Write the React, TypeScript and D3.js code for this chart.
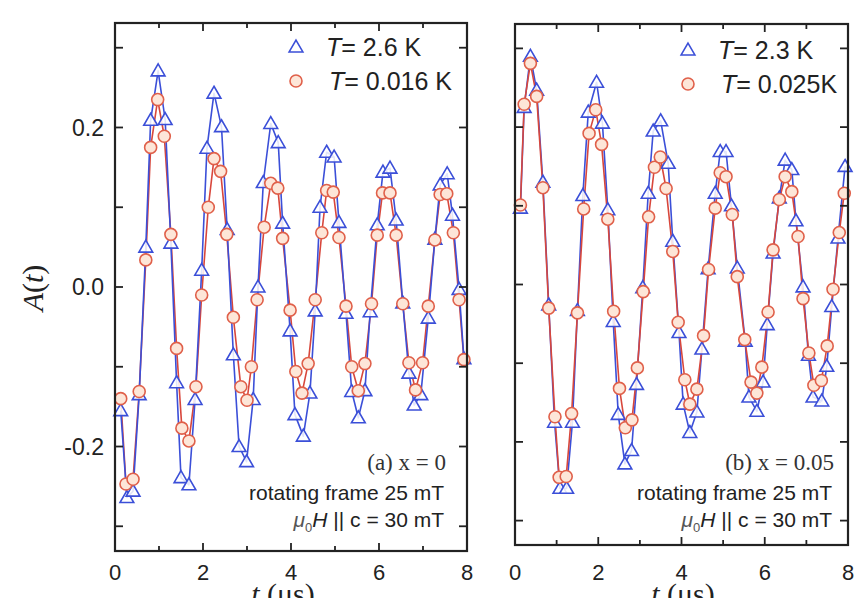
import React, { useEffect, useRef } from "react";
import * as d3 from "d3";

// panel (a) x = 0
const leftRedT = [0.13, 0.25, 0.41, 0.55, 0.70, 0.81, 0.97, 1.12, 1.27, 1.40, 1.52, 1.68, 1.84, 1.97, 2.12, 2.25, 2.40, 2.54, 2.69, 2.86, 3.00, 3.10, 3.23, 3.39, 3.54, 3.70, 3.81, 3.98, 4.11, 4.25, 4.39, 4.55, 4.70, 4.81, 4.96, 5.09, 5.25, 5.38, 5.53, 5.68, 5.83, 5.96, 6.08, 6.25, 6.39, 6.54, 6.68, 6.83, 6.99, 7.12, 7.27, 7.39, 7.54, 7.69, 7.82, 7.93];
const leftRedA = [-0.140, -0.247, -0.241, -0.131, 0.034, 0.175, 0.235, 0.189, 0.066, -0.077, -0.177, -0.193, -0.125, -0.010, 0.100, 0.161, 0.145, 0.066, -0.038, -0.125, -0.142, -0.100, -0.016, 0.075, 0.130, 0.124, 0.061, -0.029, -0.106, -0.133, -0.096, -0.016, 0.068, 0.121, 0.119, 0.062, -0.024, -0.100, -0.130, -0.096, -0.021, 0.065, 0.118, 0.118, 0.065, -0.021, -0.095, -0.129, -0.095, -0.024, 0.059, 0.116, 0.117, 0.068, -0.016, -0.091];
const leftBlueT = [0.13, 0.27, 0.41, 0.55, 0.70, 0.81, 0.98, 1.14, 1.27, 1.40, 1.50, 1.68, 1.82, 1.97, 2.09, 2.25, 2.42, 2.55, 2.69, 2.82, 2.99, 3.14, 3.25, 3.37, 3.54, 3.71, 3.81, 3.98, 4.09, 4.28, 4.43, 4.55, 4.66, 4.81, 4.98, 5.09, 5.25, 5.38, 5.53, 5.68, 5.80, 5.96, 6.09, 6.25, 6.39, 6.54, 6.68, 6.80, 6.95, 7.12, 7.27, 7.39, 7.55, 7.67, 7.82, 7.93];
const leftBlueA = [-0.155, -0.264, -0.256, -0.135, 0.050, 0.209, 0.271, 0.210, 0.055, -0.120, -0.239, -0.248, -0.141, 0.021, 0.174, 0.243, 0.201, 0.072, -0.085, -0.200, -0.219, -0.141, 0.000, 0.131, 0.205, 0.181, 0.080, -0.055, -0.160, -0.187, -0.133, -0.030, 0.100, 0.169, 0.163, 0.081, -0.033, -0.131, -0.164, -0.130, -0.031, 0.078, 0.144, 0.149, 0.084, -0.020, -0.108, -0.148, -0.135, -0.039, 0.060, 0.128, 0.142, 0.090, -0.003, -0.090];

// panel (b) x = 0.05
const rightRedT = [0.13, 0.22, 0.37, 0.52, 0.67, 0.81, 0.96, 1.06, 1.23, 1.36, 1.50, 1.65, 1.78, 1.94, 2.08, 2.23, 2.37, 2.51, 2.65, 2.81, 2.94, 3.08, 3.21, 3.35, 3.49, 3.63, 3.79, 3.92, 4.08, 4.20, 4.37, 4.53, 4.65, 4.81, 4.93, 5.07, 5.22, 5.34, 5.52, 5.67, 5.81, 5.93, 6.08, 6.20, 6.35, 6.49, 6.65, 6.80, 6.92, 7.06, 7.18, 7.36, 7.50, 7.64, 7.79, 7.91];
const rightRedA = [0.101, 0.229, 0.281, 0.239, 0.123, -0.030, -0.168, -0.245, -0.244, -0.164, -0.036, 0.096, 0.192, 0.222, 0.178, 0.083, -0.034, -0.132, -0.182, -0.172, -0.106, -0.009, 0.086, 0.149, 0.162, 0.122, 0.042, -0.048, -0.121, -0.152, -0.133, -0.065, 0.019, 0.097, 0.142, 0.137, 0.089, 0.010, -0.070, -0.124, -0.138, -0.105, -0.035, 0.044, 0.108, 0.137, 0.118, 0.061, -0.018, -0.087, -0.128, -0.122, -0.078, -0.006, 0.066, 0.116];
const rightBlueT = [0.13, 0.22, 0.37, 0.52, 0.67, 0.81, 0.95, 1.08, 1.24, 1.38, 1.50, 1.63, 1.76, 1.96, 2.10, 2.23, 2.36, 2.48, 2.64, 2.80, 2.92, 3.07, 3.20, 3.32, 3.50, 3.68, 3.79, 3.94, 4.04, 4.20, 4.37, 4.49, 4.64, 4.81, 4.93, 5.07, 5.20, 5.34, 5.53, 5.62, 5.81, 5.96, 6.06, 6.20, 6.35, 6.49, 6.65, 6.75, 6.92, 7.05, 7.16, 7.37, 7.49, 7.61, 7.76, 7.93];
const rightBlueA = [0.097, 0.225, 0.290, 0.247, 0.130, -0.026, -0.175, -0.259, -0.259, -0.175, -0.033, 0.113, 0.219, 0.257, 0.205, 0.095, -0.047, -0.165, -0.228, -0.211, -0.127, -0.004, 0.116, 0.195, 0.208, 0.154, 0.055, -0.061, -0.152, -0.188, -0.162, -0.082, 0.020, 0.116, 0.169, 0.169, 0.100, 0.021, -0.072, -0.143, -0.161, -0.124, -0.051, 0.040, 0.110, 0.158, 0.146, 0.081, -0.003, -0.090, -0.143, -0.148, -0.104, -0.028, 0.059, 0.150];

const xTicks = [0, 1, 2, 3, 4, 5, 6, 7, 8];
const xTickLabels = [0, 2, 4, 6, 8];
const yTicks = [-0.3, -0.2, -0.1, 0, 0.1, 0.2, 0.3];
const yTickLabels = [-0.2, 0, 0.2];

const BLUE = "#3b4fd8";
const RED = "#d8473c";
const CIRCLE_STROKE = "#e0604a";
const CIRCLE_FILL = "#fde6d8";

const panels = [
  {
    box: { left: 115, right: 467, top: 23, bottom: 551 },
    red: { t: leftRedT, a: leftRedA },
    blue: { t: leftBlueT, a: leftBlueA },
    blueOnTop: true,
    yLabels: true,
    legend: ["2.6 K", "0.016 K"],
    legendPos: { x: 296, y: 47 },
    tag: "(a) x = 0",
    noteX: 446,
    titleX: 283,
  },
  {
    box: { left: 515, right: 848, top: 24, bottom: 545 },
    red: { t: rightRedT, a: rightRedA },
    blue: { t: rightBlueT, a: rightBlueA },
    blueOnTop: false,
    yLabels: false,
    legend: ["2.3 K", "0.025K"],
    legendPos: { x: 688, y: 50 },
    tag: "(b) x = 0.05",
    noteX: 834,
    titleX: 683,
  },
];

const App = () => {
  const ref = useRef(null);

  useEffect(() => {
    drawChart();
  }, []);

  const drawChart = () => {
    const svg = d3.select(ref.current);
    svg.selectAll("*").remove();
    svg.append("rect").attr("width", 859).attr("height", 598).attr("fill", "#fff");

    const sans = "'Liberation Sans', Arial, sans-serif";
    const serif = "'Liberation Serif', 'Times New Roman', serif";

    panels.forEach((p) => {
      const { left, right, top, bottom } = p.box;
      const x = d3.scaleLinear().domain([0, 8]).range([left, right]);
      const y = d3.scaleLinear().domain([-0.331, 0.331]).range([bottom, top]);
      const g = svg.append("g");

      const line = d3
        .line()
        .x((d) => x(d[0]))
        .y((d) => y(d[1]));

      const redPts = p.red.t.map((t, i) => [t, p.red.a[i]]);
      const bluePts = p.blue.t.map((t, i) => [t, p.blue.a[i]]);

      const drawLine = (pts, color) =>
        g.append("path").datum(pts).attr("d", line).attr("fill", "none").attr("stroke", color).attr("stroke-width", 1.6).attr("stroke-linejoin", "round");

      if (p.blueOnTop) {
        drawLine(redPts, RED);
        drawLine(bluePts, BLUE);
      } else {
        drawLine(bluePts, BLUE);
        drawLine(redPts, RED);
      }

      const tri = d3.symbol().type(d3.symbolTriangle).size(82);
      g.selectAll(".tri")
        .data(bluePts)
        .join("path")
        .attr("d", tri)
        .attr("transform", (d) => `translate(${x(d[0])},${y(d[1]) + 1})`)
        .attr("fill", "#fff")
        .attr("fill-opacity", 0.85)
        .attr("stroke", BLUE)
        .attr("stroke-width", 1.6);

      g.selectAll(".circ")
        .data(redPts)
        .join("circle")
        .attr("cx", (d) => x(d[0]))
        .attr("cy", (d) => y(d[1]))
        .attr("r", 6)
        .attr("fill", CIRCLE_FILL)
        .attr("stroke", CIRCLE_STROKE)
        .attr("stroke-width", 1.6);

      // ticks on all four sides, pointing inward
      xTicks.forEach((v) => {
        const len = v % 2 === 0 ? 8 : 5;
        g.append("line").attr("x1", x(v)).attr("x2", x(v)).attr("y1", bottom).attr("y2", bottom - len).attr("stroke", "#222").attr("stroke-width", 1.8);
        g.append("line").attr("x1", x(v)).attr("x2", x(v)).attr("y1", top).attr("y2", top + len).attr("stroke", "#222").attr("stroke-width", 1.8);
      });
      yTicks.forEach((v) => {
        g.append("line").attr("x1", left).attr("x2", left + 8).attr("y1", y(v)).attr("y2", y(v)).attr("stroke", "#222").attr("stroke-width", 1.8);
        g.append("line").attr("x1", right).attr("x2", right - 8).attr("y1", y(v)).attr("y2", y(v)).attr("stroke", "#222").attr("stroke-width", 1.8);
      });

      g.append("rect")
        .attr("x", left)
        .attr("y", top)
        .attr("width", right - left)
        .attr("height", bottom - top)
        .attr("fill", "none")
        .attr("stroke", "#222")
        .attr("stroke-width", 2.2);

      xTickLabels.forEach((v) => {
        g.append("text")
          .attr("x", x(v))
          .attr("y", 580)
          .attr("text-anchor", "middle")
          .attr("font-family", sans)
          .attr("font-size", 22)
          .attr("fill", "#222")
          .text(v);
      });

      if (p.yLabels) {
        yTickLabels.forEach((v) => {
          g.append("text")
            .attr("x", left - 11)
            .attr("y", y(v))
            .attr("dy", "0.36em")
            .attr("text-anchor", "end")
            .attr("font-family", sans)
            .attr("font-size", 23)
            .attr("fill", "#222")
            .text(d3.format(".1f")(v).replace("−", "-"));
        });
      }

      // legend
      const lx = p.legendPos.x;
      const ly = p.legendPos.y;
      g.append("path").attr("d", tri).attr("transform", `translate(${lx},${ly + 1})`).attr("fill", "#fff").attr("stroke", BLUE).attr("stroke-width", 1.6);
      g.append("circle").attr("cx", lx).attr("cy", ly + 34).attr("r", 6).attr("fill", CIRCLE_FILL).attr("stroke", CIRCLE_STROKE).attr("stroke-width", 1.6);
      p.legend.forEach((s, i) => {
        const t = g.append("text")
          .attr("x", lx + 30 + i * 3)
          .attr("y", ly + 9 + i * 34)
          .attr("font-family", sans)
          .attr("font-size", 25)
          .attr("fill", "#222");
        t.append("tspan").attr("font-style", "italic").text("T");
        t.append("tspan").text("= " + s);
      });

      // annotations
      g.append("text")
        .attr("x", p.noteX)
        .attr("y", 470)
        .attr("text-anchor", "end")
        .attr("font-family", serif)
        .attr("font-size", 23)
        .attr("fill", "#333")
        .text(p.tag);
      g.append("text")
        .attr("x", p.noteX - 2)
        .attr("y", 500)
        .attr("text-anchor", "end")
        .attr("font-family", sans)
        .attr("font-size", 21)
        .attr("fill", "#222")
        .text("rotating frame 25 mT");
      const mu = g.append("text")
        .attr("x", p.noteX - 2)
        .attr("y", 527)
        .attr("text-anchor", "end")
        .attr("font-family", sans)
        .attr("font-size", 21)
        .attr("fill", "#222");
      mu.append("tspan").attr("font-style", "italic").attr("fill", "#555").text("μ");
      mu.append("tspan").attr("font-size", 13).attr("fill", "#555").attr("dy", 5).text("0");
      mu.append("tspan").attr("font-style", "italic").attr("dy", -5).text("H");
      mu.append("tspan").text(" || c = 30 mT");

      // x title (partly below the page edge, as in the original)
      const xt = g.append("text")
        .attr("x", p.titleX)
        .attr("y", 604)
        .attr("text-anchor", "middle")
        .attr("font-family", serif)
        .attr("font-size", 30)
        .attr("fill", "#222");
      xt.append("tspan").attr("font-style", "italic").text("t");
      xt.append("tspan").text(" (μs)");
    });

    const yt = svg.append("text")
      .attr("transform", "translate(43,288) rotate(-90)")
      .attr("text-anchor", "middle")
      .attr("font-family", serif)
      .attr("font-size", 30)
      .attr("fill", "#222");
    yt.append("tspan").attr("font-style", "italic").text("A");
    yt.append("tspan").text("(");
    yt.append("tspan").attr("font-style", "italic").text("t");
    yt.append("tspan").text(")");
  };

  return (
    <div style={{ position: "absolute", left: 0, top: 0 }}>
      <svg ref={ref} width={859} height={598} style={{ display: "block" }}></svg>
    </div>
  );
};

export default App;
